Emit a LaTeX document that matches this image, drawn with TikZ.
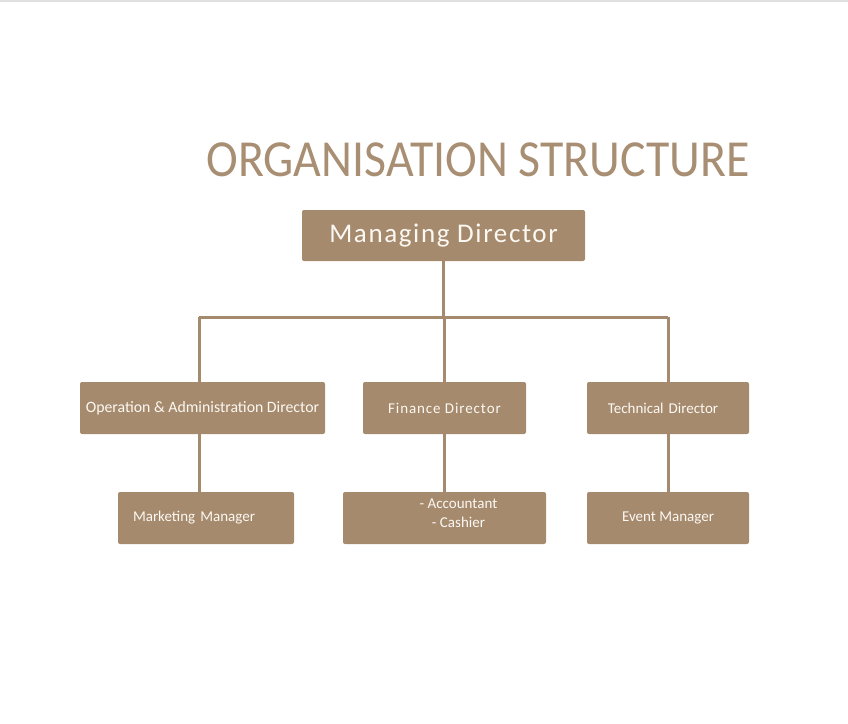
\documentclass[tikz,border=0pt]{standalone}
\usepackage{fontspec}
\setmainfont{Carlito}
\usepackage{tikz}
\usetikzlibrary{positioning}
\definecolor{boxcol}{RGB}{165,138,110}
\definecolor{titlecol}{RGB}{168,142,114}
\colorlet{linecol}{boxcol}
\definecolor{textcol}{RGB}{252,248,242}
\tikzset{
  orgbox/.style={fill=boxcol, rounded corners=2pt, text=textcol,
    minimum height=52pt, inner sep=0pt, font=\fontsize{15}{19}\selectfont},
  wide/.style={font=\fontsize{15}{19}\selectfont\addfontfeature{LetterSpace=6}},
  link/.style={draw=linecol, line width=3pt}
}

\begin{document}
\begin{tikzpicture}[x=1pt, y=-1pt]

  \useasboundingbox (0,0) rectangle (848,723);
  \draw[black!12, line width=1.5pt] (0,1) -- (848,1);

  % Title.
  \node[text=titlecol, font=\fontsize{52}{56}\selectfont] (title) at (478,160)
    {\scalebox{0.92}[1]{ORGANISATION STRUCTURE}};

  % Top level.
  \node[orgbox, minimum width=283pt, minimum height=51pt,
    font=\fontsize{27}{30}\selectfont\addfontfeature{LetterSpace=6}] (md) at (443.5,235.5)
    {Managing Director};

  % Directors.
  \node[orgbox, minimum width=245pt, font=\fontsize{15.8}{19}\selectfont] (opdir) at (202.5,408)
    {Operation \& Administration Director};
  \node[orgbox, wide, minimum width=163pt] (findir) at (444.5,408)
    {Finance Director};
  \node[orgbox, minimum width=162pt, text width=152pt, align=center] (techdir) at (668,408)
    {\hspace*{-10pt}Technical Director};

  % Managers.
  \node[orgbox, minimum width=176pt, text width=146pt, inner xsep=15pt, align=left] (mktmgr) at (206,518)
    {Marketing Manager};
  \node[orgbox, minimum width=203pt, align=center] (accmgr) at (444.5,518)
    {\hspace*{28pt}- Accountant\\\hspace*{28pt}- Cashier\\[-10pt]};
  \node[orgbox, minimum width=162pt] (evtmgr) at (668,518)
    {Event Manager};

  % Connectors.
  \coordinate (barL) at (199,317);
  \coordinate (barR) at (668,317);
  \draw[link] (md.south) -- (md.south |- barL);
  \draw[link] (barL) -- (barR);
  \draw[link] (barL) -- (barL |- opdir.north);
  \draw[link] (findir.north |- barL) -- (findir.north);
  \draw[link] (barR) -- (techdir.north);
  \draw[link] (barL |- opdir.south) -- (barL |- mktmgr.north);
  \draw[link] (findir.south) -- (findir.south |- accmgr.north);
  \draw[link] (techdir.south) -- (evtmgr.north);

\end{tikzpicture}
\end{document}
